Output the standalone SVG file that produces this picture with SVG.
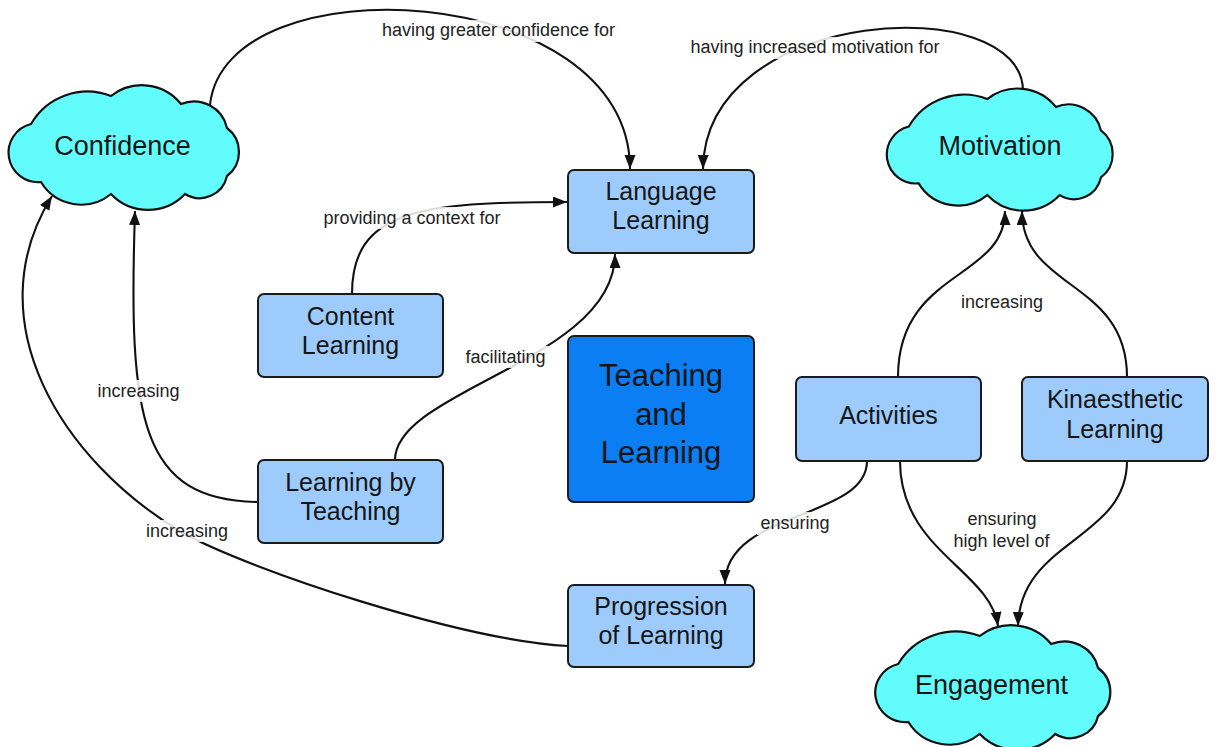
<svg xmlns="http://www.w3.org/2000/svg" width="1220" height="747" viewBox="0 0 1220 747">
<style>
.box{fill:#9dcbfb;stroke:#1b1b1b;stroke-width:2}
.dark{fill:#0a7ef2;stroke:#1b1b1b;stroke-width:2}
.cloud{fill:#63fcfc;stroke:#111;stroke-width:2.2}
.t{font-family:"Liberation Sans",Arial,sans-serif;fill:#151515;text-anchor:middle}
.nt{font-size:25px}
.ct{font-size:27px}
.big{font-size:31px}
.lbl{font-family:"Liberation Sans",Arial,sans-serif;font-size:18px;fill:#222;text-anchor:middle}
.lbg{fill:#fff;opacity:0.85}
.edge{fill:none;stroke:#111;stroke-width:2.1;marker-end:url(#arr)}
</style>
<defs>
<marker id="arr" markerUnits="userSpaceOnUse" markerWidth="16" markerHeight="12" refX="14" refY="5.5" orient="auto">
<path d="M0,0 L14,5.5 L0,11 Z" fill="#111"/>
</marker>
<path id="cloudShape" d="M-92,-24 A65,65 0 0 1 -12,-52 A50,50 0 0 1 58,-44 A34,34 0 0 1 104,-20 A30,30 0 0 1 104,28 A28,28 0 0 1 62,46 A51,51 0 0 1 -12,46 A47,47 0 0 1 -82,34 A29.5,29.5 0 0 1 -92,-24 Z"/>
</defs>
<rect width="1220" height="747" fill="#fff"/>

<g id="connectors">
<path class="edge" d="M210,105 C225,-40 630,-20 630,169"/>
<path class="edge" d="M1023,92 C1025,-10 705,5 703,169"/>
<path class="edge" d="M352,294 C352,210 420,202 567,202"/>
<path class="edge" d="M395,460 C395,390 615,360 615,254"/>
<path class="edge" d="M258,502 C140,500 128,420 135,211"/>
<path class="edge" d="M568,646 C460,640 250,570 183,533 C60,460 -25,320 52,196"/>
<path class="edge" d="M898,377 C898,270 1005,280 1005,211"/>
<path class="edge" d="M1127,377 C1127,280 1022,290 1022,211"/>
<path class="edge" d="M867,461 C867,520 725,510 725,584"/>
<path class="edge" d="M900,461 C900,550 990,570 998,626"/>
<path class="edge" d="M1127,461 C1127,540 1020,540 1018,626"/>
</g>

<g id="labels">
<rect class="lbg" x="376" y="20" width="246" height="22"/>
<text class="lbl" x="498.5" y="36">having greater confidence for</text>
<rect class="lbg" x="684" y="37" width="262" height="22"/>
<text class="lbl" x="815" y="53">having increased motivation for</text>
<rect class="lbg" x="318" y="207" width="188" height="22"/>
<text class="lbl" x="412" y="224">providing a context for</text>
<rect class="lbg" x="462" y="346" width="87" height="22"/>
<text class="lbl" x="505.5" y="363">facilitating</text>
<rect class="lbg" x="94" y="380" width="89" height="22"/>
<text class="lbl" x="138.5" y="397">increasing</text>
<rect class="lbg" x="142" y="520" width="90" height="22"/>
<text class="lbl" x="187" y="537">increasing</text>
<rect class="lbg" x="957" y="291" width="90" height="22"/>
<text class="lbl" x="1002" y="308">increasing</text>
<rect class="lbg" x="757" y="512" width="76" height="23"/>
<text class="lbl" x="795" y="529">ensuring</text>
<rect class="lbg" x="950" y="508" width="103" height="45"/>
<text class="lbl" x="1002" y="525">ensuring</text>
<text class="lbl" x="1001.5" y="547">high level of</text>
</g>

<g id="confidence">
<use href="#cloudShape" class="cloud" transform="translate(123,148)"/>
<text class="t ct" x="122.5" y="155">Confidence</text>
</g>
<g id="motivation">
<use href="#cloudShape" class="cloud" transform="translate(999,150) scale(0.98,0.98)"/>
<text class="t ct" x="1000" y="155">Motivation</text>
</g>
<g id="engagement">
<use href="#cloudShape" class="cloud" transform="translate(992,688) scale(1.02,1)"/>
<text class="t ct" x="991.5" y="694">Engagement</text>
</g>

<g id="language-learning">
<rect class="box" x="568" y="170" width="186" height="83" rx="6"/>
<text class="t nt" x="661" y="200">Language</text>
<text class="t nt" x="661" y="229">Learning</text>
</g>
<g id="content-learning">
<rect class="box" x="258" y="294" width="185" height="83" rx="6"/>
<text class="t nt" x="350.5" y="325">Content</text>
<text class="t nt" x="350.5" y="354">Learning</text>
</g>
<g id="learning-by-teaching">
<rect class="box" x="258" y="460" width="185" height="83" rx="6"/>
<text class="t nt" x="350.5" y="491">Learning by</text>
<text class="t nt" x="350.5" y="520">Teaching</text>
</g>
<g id="teaching-and-learning">
<rect class="dark" x="568" y="336" width="186" height="166" rx="6"/>
<text class="t big" x="661" y="386">Teaching</text>
<text class="t big" x="661" y="425">and</text>
<text class="t big" x="661" y="463">Learning</text>
</g>
<g id="progression-of-learning">
<rect class="box" x="568" y="585" width="186" height="82" rx="6"/>
<text class="t nt" x="661" y="615">Progression</text>
<text class="t nt" x="661" y="644">of Learning</text>
</g>
<g id="activities">
<rect class="box" x="796" y="377" width="185" height="84" rx="6"/>
<text class="t nt" x="888.5" y="424">Activities</text>
</g>
<g id="kinaesthetic-learning">
<rect class="box" x="1022" y="377" width="186" height="84" rx="6"/>
<text class="t nt" x="1115" y="408">Kinaesthetic</text>
<text class="t nt" x="1115" y="438">Learning</text>
</g>
</svg>
